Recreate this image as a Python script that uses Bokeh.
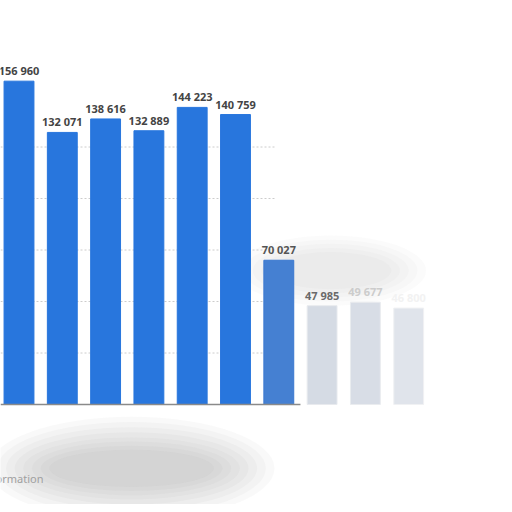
from bokeh.plotting import figure
from bokeh.models import ColumnDataSource, Range1d, LabelSet, Label
from bokeh.core.properties import value
from bokeh.embed import file_html
from bokeh.resources import INLINE

# ---- data ----
values = [156960, 132071, 138616, 132889, 144223, 140759, 70027, 47985, 49677, 46800]
grid_values = [25000, 50000, 75000, 100000, 125000]
footer_text = "Additional Information"

# ---- styles (kept apart from data) ----
bar_colors = ["#2876dd"] * 6 + ["#4580d2", "#d5dbe4", "#d8dde6", "#e0e4eb"]
bar_line_colors = ["#2876dd"] * 6 + ["#3a78d0", "#e8eaee", "#eaecef", "#f0f1f3"]
label_colors = ["#444444"] * 6 + ["#555555", "#6a6a6a", "#cccccc", "#f2f2f2"]

x = list(range(len(values)))
labels = [f"{v:,}".replace(",", " ") for v in values]
src = ColumnDataSource(dict(x=x, top=values, label=labels, color=bar_colors,
                            lcolor=bar_line_colors, tcolor=label_colors))

W, H = 504, 504
px_per_unit = 43.3
x0 = -18.5 / px_per_unit
px_per_val = 2.06 / 1000
base_px = 404
y_top = base_px / px_per_val
y_bot = -(H - base_px) / px_per_val

p = figure(width=W, height=H, output_backend="svg", toolbar_location=None,
           x_range=Range1d(x0, x0 + W / px_per_unit), y_range=Range1d(y_bot, y_top),
           x_axis_location=None, y_axis_location=None, min_border=0)
p.outline_line_color = None
p.grid.visible = False
p.background_fill_color = "white"
p.border_fill_color = "white"

# soft grey smear below the chart
layers = [(6.6, 50000), (6.2, 45000), (5.8, 40000), (5.4, 35000), (5.0, 30000),
          (4.6, 26000), (4.2, 22000), (3.8, 18000)]
for w, h in layers:
    p.ellipse(x=[2.6], y=[-31000], width=[w], height=[h], fill_color="#909090",
              fill_alpha=0.05, line_color=None)
# faint smear above the faded bars
for w, h in [(4.4, 34000), (4.0, 30000), (3.6, 26000), (3.2, 22000), (2.8, 18000)]:
    p.ellipse(x=[7.2], y=[65000], width=[w], height=[h], fill_color="#909090",
              fill_alpha=0.035, line_color=None)

# grid lines (dotted)
gx0 = [x0] * len(grid_values)
gx1 = [5.9] * len(grid_values)
p.segment(x0=gx0, x1=gx1, y0=grid_values, y1=grid_values, line_color="#cccccc",
          line_width=1, line_dash="2 2")

p.vbar(x="x", top="top", bottom=0, width=0.69, source=src, fill_color="color",
       line_color="lcolor", line_width=1)

# baseline
p.segment(x0=[x0], x1=[6.5], y0=[0], y1=[0], line_color="#8a8a8a", line_width=1.5)

p.add_layout(LabelSet(x="x", y="top", text="label", source=src, y_offset=6,
                      text_align="center", text_baseline="alphabetic",
                      text_font=value("Noto Sans"), text_font_size="11px",
                      text_font_style="bold", text_color="tcolor"))

p.add_layout(Label(x=43, y=26, x_units="screen", y_units="screen", text=footer_text,
                   text_align="right", text_baseline="middle", text_font="Noto Sans",
                   text_font_size="11px", text_color="#a0a0a0"))

open("out.html", "w").write(file_html(p, INLINE))
